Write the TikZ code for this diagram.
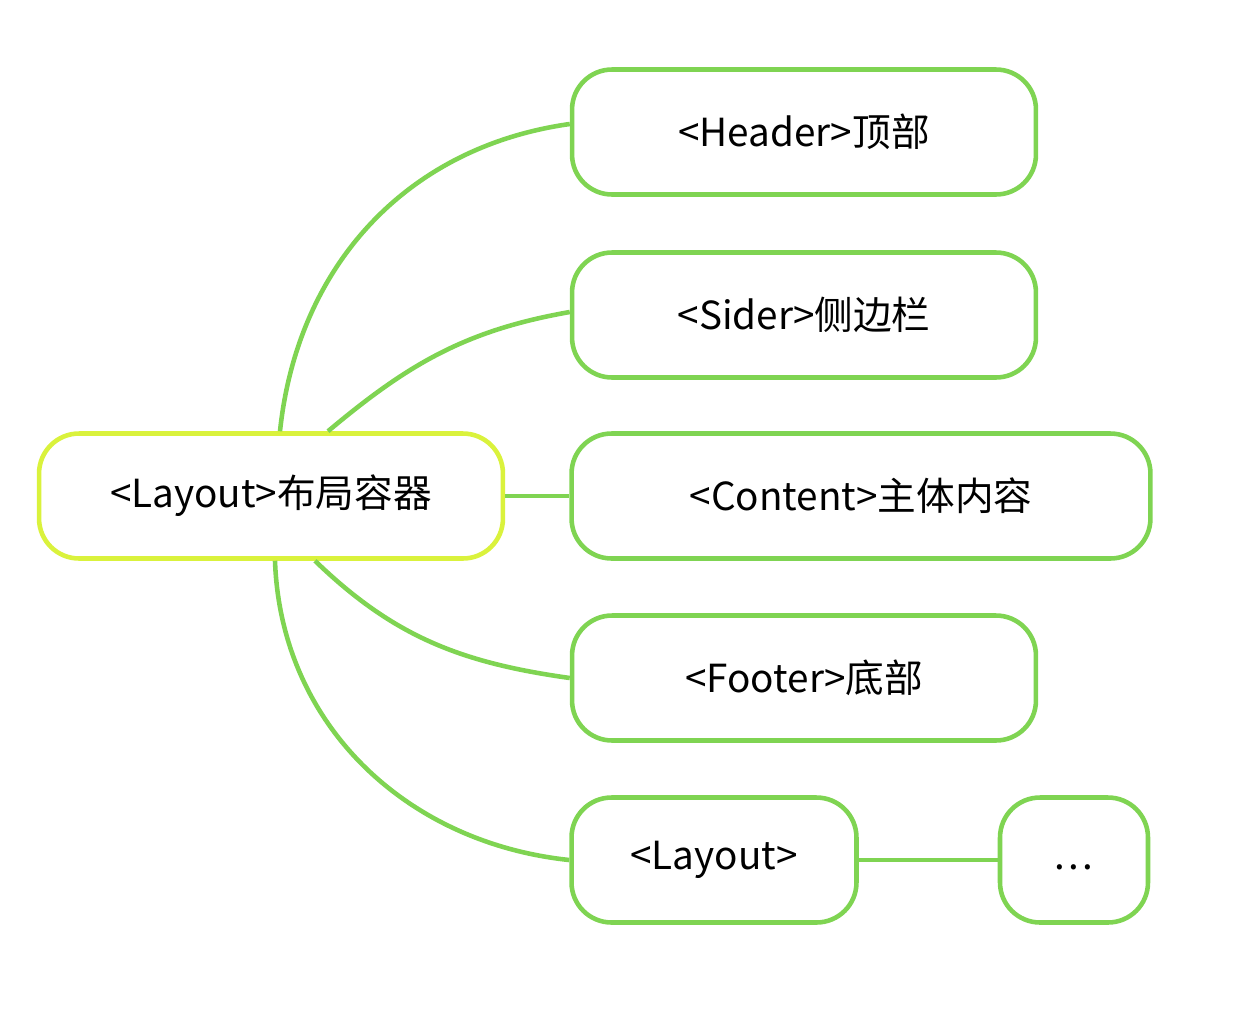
\documentclass[tikz,border=0pt]{standalone}
\usepackage{fontspec}
\setmainfont{Noto Sans CJK SC}
\usetikzlibrary{positioning}
\definecolor{leafgreen}{RGB}{127,212,82}
\definecolor{rootlime}{RGB}{218,242,60}

\begin{document}
\begin{tikzpicture}[x=0.02cm,y=-0.02cm,
    leafnode/.style={draw=leafgreen, line width=2.6pt, rounded corners=0.8cm, fill=white,
        minimum width=9.28cm, minimum height=2.5cm, inner sep=0pt, font=\fontsize{22}{26}\selectfont},
    rootnode/.style={leafnode, draw=rootlime},
    link/.style={draw=leafgreen, line width=2.6pt}]
        \useasboundingbox (0,0) rectangle (1248,1012);
        %Nodes
        \node[rootnode]      (layout)                     at (271,496) {<Layout>布局容器};
        \node[leafnode]      (header)                     at (804,132) {<Header>顶部};
        \node[leafnode]      (sider)                      at (804,315) {<Sider>侧边栏};
        \node[leafnode, minimum width=11.58cm] (content)  at (861,496) {<Content>主体内容};
        \node[leafnode]      (footer)                     at (804,678) {<Footer>底部};
        \node[leafnode, minimum width=5.7cm] (sublayout)  at (714,860) {<Layout>};
        \node[leafnode, minimum width=2.96cm] (more)      at (1074,860) {\raisebox{-0.4cm}{.\hspace{0.06cm}.\hspace{0.06cm}.}};
        %Lines
        \draw[link] ([xshift=0.18cm]layout.north) to[out=84,in=188] ([yshift=0.16cm]header.west);
        \draw[link] ([xshift=1.14cm]layout.north) to[out=40,in=190] ([yshift=0.06cm]sider.west);
        \draw[link] (layout.east) -- (content.west);
        \draw[link] ([xshift=0.88cm]layout.south) to[out=-44,in=172] (footer.west);
        \draw[link] ([xshift=0.08cm]layout.south) to[out=-88,in=174] (sublayout.west);
        \draw[link] (sublayout.east) -- (more.west);
    \end{tikzpicture}
\end{document}
